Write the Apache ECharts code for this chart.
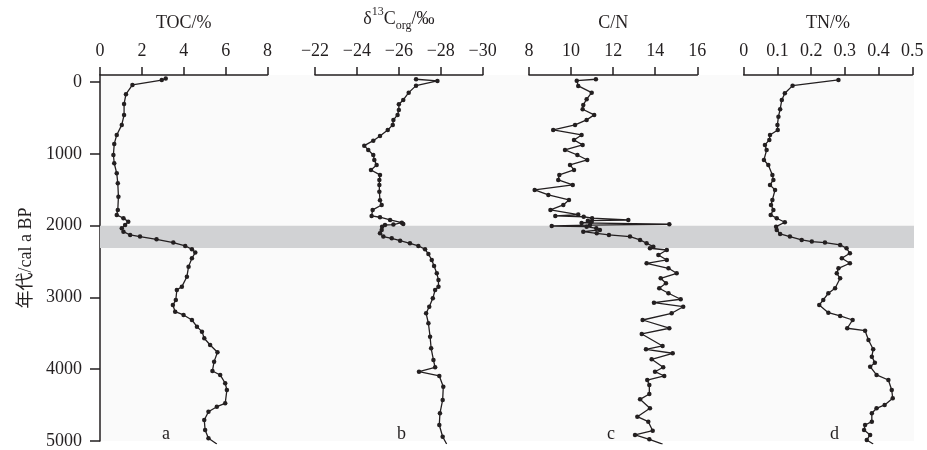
<!DOCTYPE html>
<html><head><meta charset="utf-8">
<script src="https://cdn.jsdelivr.net/npm/echarts@6/dist/echarts.min.js"></script>
<style>html,body{margin:0;padding:0;background:#fff}#c{width:927px;height:450px}</style>
</head><body><div id="c"></div>
<script>
// ---- data ----
const ageTicks = [0, 1000, 2000, 3000, 4000, 5000];
const bandAges = [2000, 2310];
const panelLetters = ['a', 'b', 'c', 'd'];

const tocAge = [-50,-30,37,166,300,452,590,729,853,1006,1120,1260,1397,1582,1766,1835,1881,1928,1974,2020,2066,2112,2135,2172,2218,2264,2310,2356,2434,2550,2689,2827,2873,3011,3080,3173,3218,3288,3380,3449,3541,3633,3735,3864,3993,4048,4163,4256,4440,4487,4556,4671,4809,4924,5003];
const tocVal = [3.14,2.95,1.55,1.24,1.15,1.15,1.04,0.8,0.68,0.64,0.68,0.8,0.85,0.88,0.85,0.8,1.12,1.35,1.2,1.04,1.12,1.44,1.91,2.7,3.5,4.07,4.39,4.55,4.39,4.23,4.15,3.91,3.67,3.62,3.48,3.59,3.99,4.39,4.63,4.87,4.98,5.26,5.61,5.45,5.37,5.74,5.98,6.06,5.98,5.58,5.18,4.98,5.02,5.18,5.58];

const d13Age = [-41,-18,47,144,245,305,383,452,521,590,660,743,808,877,936,1006,1075,1144,1213,1282,1351,1420,1513,1631,1697,1766,1849,1867,1905,1942,1960,1968,1974,2000,2043,2089,2135,2158,2191,2227,2264,2310,2375,2458,2541,2642,2734,2827,2873,2988,3104,3195,3333,3519,3679,3841,3942,4003,4062,4210,4394,4578,4740,4902,5003];
const d13Val = [-26.82,-27.84,-26.82,-26.47,-26.21,-26.0,-26.0,-25.94,-25.74,-25.71,-25.47,-25.1,-24.78,-24.35,-24.54,-24.78,-24.83,-24.94,-24.67,-25.1,-25.07,-25.07,-25.07,-25.1,-25.18,-24.75,-24.7,-25.1,-25.58,-26.14,-26.21,-25.74,-25.34,-25.2,-25.18,-25.1,-25.26,-25.66,-26.06,-26.53,-26.93,-27.25,-27.41,-27.57,-27.68,-27.81,-27.89,-27.89,-27.73,-27.62,-27.45,-27.3,-27.41,-27.49,-27.54,-27.65,-27.73,-26.96,-27.93,-28.12,-28.09,-27.96,-27.93,-28.09,-28.28];

const cnAge = [-41,-22,51,144,235,314,374,452,521,590,660,729,798,867,936,1006,1075,1144,1213,1282,1351,1420,1489,1559,1628,1697,1766,1830,1849,1860,1880,1905,1915,1928,1945,1964,1975,1988,1997,2020,2043,2066,2089,2112,2135,2181,2227,2274,2296,2320,2389,2458,2504,2573,2642,2711,2780,2849,2918,3001,3048,3104,3195,3288,3402,3481,3647,3693,3748,3831,3942,4003,4062,4118,4187,4311,4385,4509,4625,4694,4819,4878,4938,5003];
const cnVal = [11.18,10.27,10.34,10.98,10.74,10.58,10.55,11.1,10.74,10.19,9.15,10.5,10.14,10.55,9.71,10.3,10.77,9.95,10.14,9.44,9.39,10.08,8.27,8.92,9.9,9.63,9.02,10.34,9.25,10.6,11.0,12.72,10.8,10.98,10.5,14.67,10.9,9.08,10.74,11.2,11.37,10.58,11.22,11.8,12.8,13.28,13.59,13.91,13.75,14.55,14.15,14.55,13.59,14.63,15.02,14.26,14.51,14.19,14.63,15.21,13.94,15.33,14.78,13.4,14.67,13.36,14.35,13.56,14.83,13.83,14.38,13.99,14.43,13.62,13.72,13.72,13.28,13.75,13.15,13.67,13.88,13.04,13.72,14.35];

const tnAge = [-32,47,152,245,374,476,590,660,729,798,867,936,1075,1144,1282,1351,1420,1489,1628,1697,1766,1835,1881,1936,1997,2043,2098,2135,2181,2204,2218,2250,2296,2365,2434,2503,2573,2642,2711,2849,2918,3011,3080,3187,3232,3288,3402,3436,3564,3693,3795,3878,3933,4048,4118,4256,4371,4463,4509,4578,4694,4740,4809,4878,4947,5003];
const tnVal = [0.281,0.145,0.122,0.113,0.108,0.103,0.1,0.101,0.078,0.076,0.063,0.068,0.06,0.073,0.085,0.088,0.078,0.093,0.085,0.081,0.088,0.08,0.098,0.122,0.096,0.098,0.108,0.137,0.172,0.202,0.241,0.286,0.305,0.315,0.291,0.315,0.281,0.276,0.286,0.271,0.251,0.236,0.224,0.251,0.286,0.323,0.307,0.36,0.37,0.384,0.38,0.389,0.375,0.394,0.429,0.439,0.442,0.418,0.394,0.38,0.38,0.36,0.357,0.375,0.365,0.384];

// ---- layout / style ----
const INK = '#231f20';
const FONT = "'Liberation Serif','Times New Roman',serif";
const TOP = 75, H = 368.8;
const panels = [
  {left: 100, width: 167.5, min: 0, max: 8, interval: 2, inverse: false, name: 'TOC/%', age: tocAge, val: tocVal, letterX: 168},
  {left: 315, width: 167.7, min: -30, max: -22, interval: 2, inverse: true, name: '{n|δ}{sup|13}{n|C}{sub|org}{n|/‰}', age: d13Age, val: d13Val, letterX: 403},
  {left: 529, width: 168.3, min: 8, max: 16, interval: 2, inverse: false, name: 'C/N', age: cnAge, val: cnVal, letterX: 613},
  {left: 743.7, width: 168.6, min: 0, max: 0.5, interval: 0.1, inverse: false, name: 'TN/%', age: tnAge, val: tnVal, letterX: 836}
];

const grid = [{left: 100, width: 814, top: TOP, height: H, show: true, backgroundColor: '#fafafa', borderWidth: 0}];
const xAxis = [{gridIndex: 0, type: 'value', show: false, min: 0, max: 1}];
const yAxis = [{
  gridIndex: 0, type: 'value', inverse: true, min: -100, max: 5000,
  axisLine: {show: true, onZero: false, lineStyle: {color: INK, width: 1.5}},
  axisTick: {show: true, length: 10, customValues: ageTicks, lineStyle: {color: INK, width: 1.5}},
  axisLabel: {customValues: ageTicks, fontSize: 18, fontFamily: FONT, color: INK, margin: 18,
    formatter: v => String(Math.round(v))},
  splitLine: {show: false},
  name: '年代/cal a BP', nameLocation: 'middle', nameGap: 62, nameRotate: 90,
  nameTextStyle: {fontSize: 18, fontFamily: "'Liberation Serif','Noto Sans CJK SC',serif", color: INK}
}];
const series = [{
  type: 'line', xAxisIndex: 0, yAxisIndex: 0, data: [[0, bandAges[0]]], showSymbol: false, silent: true,
  lineStyle: {opacity: 0},
  markArea: {silent: true, itemStyle: {color: '#d1d2d4'}, data: [[{yAxis: bandAges[0]}, {yAxis: bandAges[1]}]]}
}];

panels.forEach((p, i) => {
  const k = i + 1;
  grid.push({left: p.left, width: p.width, top: TOP, height: H, show: false});
  xAxis.push({
    gridIndex: k, type: 'value', position: 'top', min: p.min, max: p.max, interval: p.interval, inverse: p.inverse,
    axisLine: {show: true, onZero: false, lineStyle: {color: INK, width: 1.5}},
    axisTick: {show: true, length: 8, lineStyle: {color: INK, width: 1.5}},
    axisLabel: {fontSize: 18, fontFamily: FONT, color: INK, margin: 15,
      formatter: v => { const r = Math.round(v * 10) / 10; return (r < 0 ? '\u2212' + Math.abs(r) : String(r)); }},
    splitLine: {show: false},
    name: p.name, nameLocation: 'middle', nameGap: 43,
    nameTextStyle: {fontSize: 18, fontFamily: FONT, color: INK,
      rich: {
        n: {fontSize: 18, fontFamily: FONT, color: INK},
        sup: {fontSize: 12, fontFamily: FONT, color: INK, verticalAlign: 'top', lineHeight: 26},
        sub: {fontSize: 12, fontFamily: FONT, color: INK, verticalAlign: 'bottom', lineHeight: 26}
      }}
  });
  yAxis.push({gridIndex: k, type: 'value', inverse: true, min: -100, max: 5000, show: false});
  series.push({
    type: 'line', xAxisIndex: k, yAxisIndex: k,
    data: p.age.map((a, j) => [p.val[j], a]),
    symbol: 'circle', symbolSize: 4.5, showSymbol: true,
    itemStyle: {color: INK}, lineStyle: {color: INK, width: 1.3},
    animation: false, silent: true
  });
});

const graphic = panels.map((p, i) => ({
  type: 'text', left: p.letterX - 6, top: 425,
  style: {text: panelLetters[i], font: "18px " + FONT, fill: INK}
}));

const chart = echarts.init(document.getElementById('c'), null, {renderer: 'canvas'});
chart.setOption({animation: false, grid, xAxis, yAxis, series, graphic});
</script>
</body></html>
